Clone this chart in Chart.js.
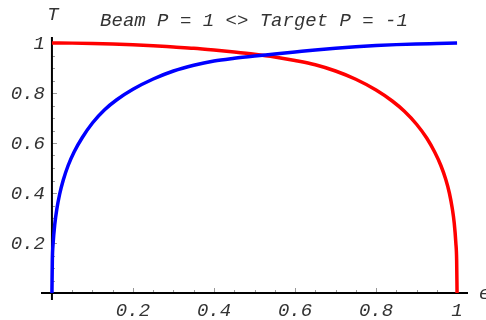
<!DOCTYPE html>
<html lang="en">
<head>
    <meta charset="UTF-8">
    <title>Beam P = 1 &lt;&gt; Target P = -1</title>
    <script src="https://cdn.jsdelivr.net/npm/chart.js"></script>
    <style>
        body {
            margin: 0;
            padding: 0;
            background-color: #ffffff;
            overflow: hidden;
        }

        #chart-box {
            width: 486px;
            height: 320px;
        }
    </style>
</head>
<body>
    <div id="chart-box">
        <canvas id="pol-chart"></canvas>
    </div>

    <script>
        // values
        const titleText = 'Beam P = 1 <> Target P = -1';
        const xLabel = '\u03f5';
        const yLabel = 'T';

        const blueX = [0, 0.001, 0.003, 0.007, 0.012, 0.019, 0.028, 0.04, 0.055, 0.075, 0.1, 0.13, 0.16, 0.2, 0.25, 0.3, 0.35, 0.4, 0.45, 0.5, 0.55, 0.6, 0.65, 0.7, 0.75, 0.8, 0.85, 0.9, 0.95, 1.0];
        const blueY = [0, 0.13, 0.2, 0.275, 0.335, 0.395, 0.452, 0.51, 0.565, 0.622, 0.68, 0.733, 0.773, 0.815, 0.856, 0.888, 0.911, 0.928, 0.939, 0.948, 0.956, 0.964, 0.972, 0.979, 0.985, 0.99, 0.9935, 0.996, 0.998, 1.0];

        const redX = [0, 0.05, 0.1, 0.15, 0.2, 0.25, 0.3, 0.35, 0.4, 0.45, 0.5, 0.55, 0.6, 0.65, 0.7, 0.75, 0.8, 0.84, 0.87, 0.9, 0.925, 0.945, 0.96, 0.972, 0.981, 0.988, 0.993, 0.997, 0.999, 1.0];
        const redY = [1.0, 0.9995, 0.998, 0.996, 0.993, 0.989, 0.984, 0.979, 0.972, 0.964, 0.955, 0.944, 0.93, 0.913, 0.888, 0.855, 0.812, 0.768, 0.727, 0.675, 0.62, 0.563, 0.51, 0.455, 0.4, 0.34, 0.28, 0.2, 0.13, 0];

        const xTicks = [0.2, 0.4, 0.6, 0.8, 1];
        const yTicks = [0.2, 0.4, 0.6, 0.8, 1];
        const xTickLabels = ['0.2', '0.4', '0.6', '0.8', '1'];
        const yTickLabels = ['0.2', '0.4', '0.6', '0.8', '1'];
        const minorTicks = [0.05, 0.1, 0.15, 0.25, 0.3, 0.35, 0.45, 0.5, 0.55, 0.65, 0.7, 0.75, 0.85, 0.9, 0.95];

        function toPoints(xs, ys) {
            return xs.map((x, i) => ({ x: x, y: ys[i] }));
        }

        const tickFont = 'italic 19px "Liberation Mono", "DejaVu Sans Mono", monospace';

        // Mathematica-style axes crossing at the origin
        const axesPlugin = {
            id: 'axesAtOrigin',
            beforeDatasetsDraw(chart) {
                const ctx = chart.ctx;
                const xs = chart.scales.x;
                const ys = chart.scales.y;
                const area = chart.chartArea;
                const x0 = xs.getPixelForValue(0);
                const y0 = ys.getPixelForValue(0);

                ctx.save();
                // minor + major ticks
                ctx.strokeStyle = '#999999';
                ctx.lineWidth = 1;
                ctx.beginPath();
                minorTicks.forEach(v => {
                    let px = Math.round(xs.getPixelForValue(v)) + 0.5;
                    ctx.moveTo(px, y0);
                    ctx.lineTo(px, y0 - 3);
                    let py = Math.round(ys.getPixelForValue(v)) + 0.5;
                    ctx.moveTo(x0, py);
                    ctx.lineTo(x0 + 3, py);
                });
                xTicks.forEach(v => {
                    let px = Math.round(xs.getPixelForValue(v)) + 0.5;
                    ctx.moveTo(px, y0);
                    ctx.lineTo(px, y0 - 5);
                });
                yTicks.forEach(v => {
                    let py = Math.round(ys.getPixelForValue(v)) + 0.5;
                    ctx.moveTo(x0, py);
                    ctx.lineTo(x0 + 5, py);
                });
                ctx.stroke();

                // axis lines
                ctx.strokeStyle = '#000000';
                ctx.lineWidth = 2;
                ctx.beginPath();
                ctx.moveTo(area.left, y0);
                ctx.lineTo(area.right, y0);
                ctx.moveTo(x0, area.bottom);
                ctx.lineTo(x0, area.top);
                ctx.stroke();

                // tick labels
                ctx.fillStyle = '#333333';
                ctx.font = tickFont;
                ctx.textAlign = 'center';
                ctx.textBaseline = 'middle';
                xTicks.forEach((v, i) => {
                    ctx.fillText(xTickLabels[i], xs.getPixelForValue(v), y0 + 18);
                });
                ctx.textAlign = 'right';
                yTicks.forEach((v, i) => {
                    ctx.fillText(yTickLabels[i], x0 - 7, ys.getPixelForValue(v) + 1);
                });

                // title and axis names
                ctx.textAlign = 'center';
                ctx.fillText(titleText, 254, 21);
                ctx.fillText(yLabel, x0 + 1, 15);
                ctx.textAlign = 'left';
                ctx.fillText(xLabel, area.right + 11, y0 + 1);
                ctx.restore();
            }
        };

        let ctx = document.getElementById('pol-chart').getContext('2d');
        let polChart = new Chart(ctx, {
            type: 'line',
            data: {
                datasets: [{
                    label: 'beam',
                    data: toPoints(blueX, blueY),
                    borderColor: '#0000ff',
                    borderWidth: 3.5,
                    pointRadius: 0,
                    fill: false,
                    cubicInterpolationMode: 'monotone'
                }, {
                    label: 'target',
                    data: toPoints(redX, redY),
                    borderColor: '#ff0000',
                    borderWidth: 3.5,
                    pointRadius: 0,
                    fill: false,
                    cubicInterpolationMode: 'monotone'
                }]
            },
            options: {
                responsive: true,
                maintainAspectRatio: false,
                animation: false,
                layout: {
                    padding: { left: 41, right: 18, top: 37, bottom: 20 }
                },
                scales: {
                    x: { type: 'linear', min: -0.027, max: 1.027, display: false },
                    y: { type: 'linear', min: -0.028, max: 1.024, display: false }
                },
                plugins: {
                    legend: { display: false },
                    tooltip: { enabled: false }
                }
            },
            plugins: [axesPlugin]
        });
    </script>
</body>
</html>
